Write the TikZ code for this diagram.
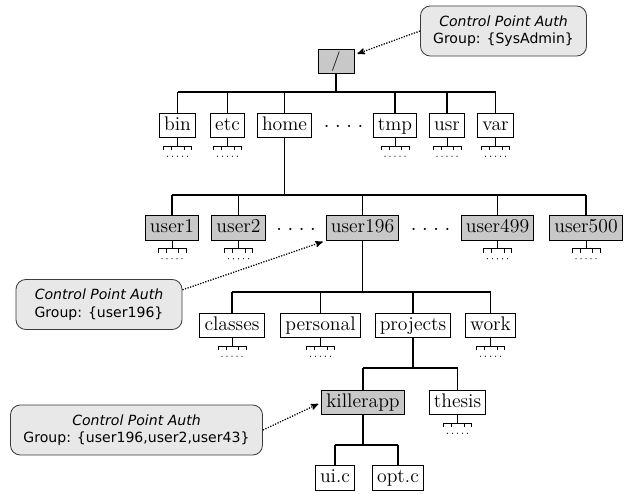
\documentclass[tikz,border=0pt]{standalone}
\usepackage{fontspec}
\newfontfamily\notefont{DejaVu Sans}
\usepackage{tikz}
\usetikzlibrary{arrows, positioning, calc}
\definecolor{dirgray}{RGB}{200,200,200}
\definecolor{notegray}{RGB}{232,232,232}
\definecolor{noteedge}{RGB}{60,60,60}
\newcommand{\dotrow}{${\cdot}\hspace{4pt}{\cdot}\hspace{4pt}{\cdot}\hspace{4pt}{\cdot}$}
\tikzset{
    dir/.style={draw, line width=0.6pt, fill=white, font=\fontsize{14}{16}\selectfont,
        inner xsep=3.3pt, inner ysep=2pt, text height=10pt, text depth=3.5pt}, % plain directory
    cpdir/.style={dir, fill=dirgray}, % directory that is a control point
    gap/.style={font=\fontsize{14}{16}\selectfont, inner sep=0pt},
    note/.style={draw=noteedge, fill=notegray, line width=0.6pt, rounded corners=7pt,
        align=center, minimum height=1.25cm, font=\notefont\fontsize{10}{12.5}\selectfont},
    branch/.style={line width=1pt},
    auth/.style={->, >=stealth', densely dotted, line width=0.9pt, shorten >=0.8mm},
    subdirs/.pic={
        \draw[line width=0.7pt] (0,0) -- (0,8)
            (-14,12) -- (-14,8) -- (14,8) -- (14,12)
            (-6,8) -- (-6,12) (6.5,8) -- (6.5,12);
        \foreach \d in {-10,-5,...,10}
            \fill (\d,18) circle (0.5pt);
    },
}

\begin{document}
\begin{tikzpicture}[x=0.025cm, y=-0.025cm]
    \useasboundingbox (0,0) rectangle (626,494);

    % the tree
    \node[cpdir, minimum width=0.9cm] at (336,61.5) (root) {/};

    \node[dir] at (177.5,125.5) (bin) {bin};
    \node[dir] at (227.5,125.5) (etc) {etc};
    \node[dir] at (284.5,125.5) (home) {home};
    \node[gap] at (343.5,127) (gap1) {\dotrow};
    \node[dir] at (395,125.5) (tmp) {tmp};
    \node[dir] at (447,125.5) (usr) {usr};
    \node[dir] at (495.5,125.5) (var) {var};

    \node[cpdir] at (172,228) (user1) {user1};
    \node[cpdir] at (238.5,228) (user2) {user2};
    \node[gap] at (296,230) (gap2) {\dotrow};
    \node[cpdir] at (362.5,228) (user196) {user196};
    \node[gap] at (430.5,230) (gap3) {\dotrow};
    \node[cpdir] at (497.5,228) (user499) {user499};
    \node[cpdir] at (586,228) (user500) {user500};

    \node[dir] at (232,325.5) (classes) {classes};
    \node[dir] at (320.5,325.5) (personal) {personal};
    \node[dir] at (413,325.5) (projects) {projects};
    \node[dir] at (490.5,325.5) (work) {work};

    \node[cpdir] at (363,402.5) (killerapp) {killerapp};
    \node[dir] at (457.5,402.5) (thesis) {thesis};

    \node[dir] at (335,478) (uic) {ui.c};
    \node[dir] at (398,478) (optc) {opt.c};

    % levels of the branches
    \coordinate (bus1) at (0,92);
    \coordinate (bus2) at (0,195);
    \coordinate (bus3) at (0,292);
    \coordinate (bus4) at (0,368);
    \coordinate (bus5) at (0,445);

    \draw[branch] (root.south) -- (root.south |- bus1)
        (bin.north |- bus1) -- (var.north |- bus1);
    \foreach \c in {bin,etc,home,tmp,usr,var}
        \draw[branch] (\c.north |- bus1) -- (\c.north);

    \draw[branch] (home.south) -- (home.south |- bus2)
        (user1.north |- bus2) -- (user500.north |- bus2);
    \foreach \c in {user1,user2,user196,user499,user500}
        \draw[branch] (\c.north |- bus2) -- (\c.north);

    \draw[branch] (user196.south) -- (user196.south |- bus3)
        (classes.north |- bus3) -- (work.north |- bus3);
    \foreach \c in {classes,personal,projects,work}
        \draw[branch] (\c.north |- bus3) -- (\c.north);

    \draw[branch] (projects.south) -- (projects.south |- bus4)
        (killerapp.north |- bus4) -- (thesis.north |- bus4);
    \foreach \c in {killerapp,thesis}
        \draw[branch] (\c.north |- bus4) -- (\c.north);

    \draw[branch] (killerapp.south) -- (killerapp.south |- bus5)
        (uic.north |- bus5) -- (optc.north |- bus5);
    \foreach \c in {uic,optc}
        \draw[branch] (\c.north |- bus5) -- (\c.north);

    \foreach \n in {bin,etc,tmp,usr,var,user1,user2,user499,user500,classes,personal,work,thesis}
        \pic at (\n.south) {subdirs};

    % control point notes
    \node[note, minimum width=4.15cm] at (503.5,31) (cp1)
        {\textit{Control Point Auth}\\Group: \{SysAdmin\}};
    \node[note, minimum width=4.15cm] at (99,304.5) (cp2)
        {\textit{Control Point Auth}\\Group: \{user196\}};
    \node[note, minimum width=6.3cm] at (136.5,430) (cp3)
        {\textit{Control Point Auth}\\Group: \{user196,user2,user43\}};

    \draw[auth] (cp1.west) -- (root.20);
    \draw[auth] (cp2.10) -- (user196.south west);
    \draw[auth] (cp3.east) -- (killerapp.west);
\end{tikzpicture}
\end{document}
